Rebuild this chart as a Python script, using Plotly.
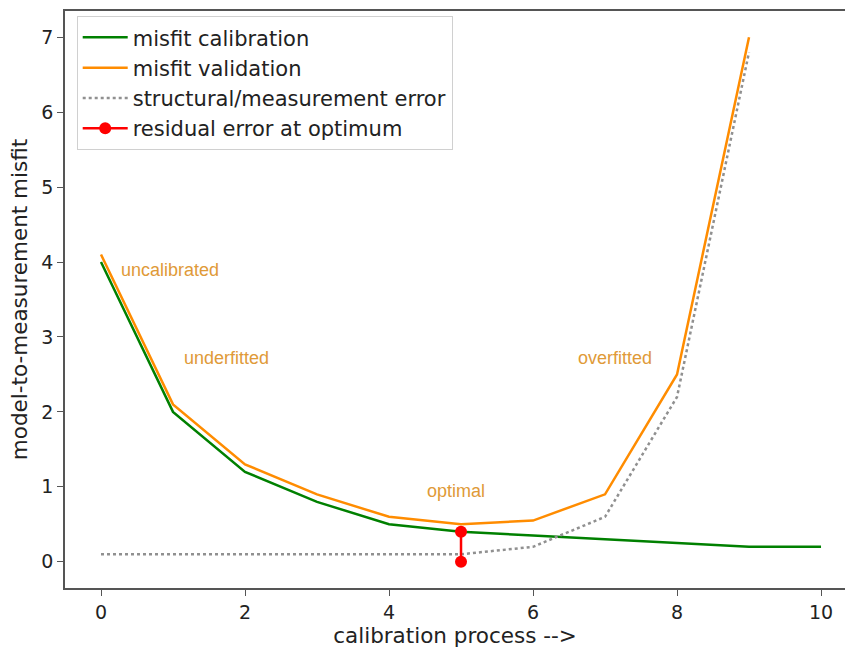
import plotly.graph_objects as go

calib_x = [0, 1, 2, 3, 4, 5, 6, 7, 8, 9, 10]
calib_y = [4.0, 2.0, 1.2, 0.8, 0.5, 0.4, 0.35, 0.3, 0.25, 0.2, 0.2]
valid_x = [0, 1, 2, 3, 4, 5, 6, 7, 8, 9]
valid_y = [4.1, 2.1, 1.3, 0.9, 0.6, 0.5, 0.55, 0.9, 2.5, 7.0]
struct_x = [0, 1, 2, 3, 4, 5, 6, 7, 8, 9]
struct_y = [0.1, 0.1, 0.1, 0.1, 0.1, 0.1, 0.2, 0.6, 2.2, 6.8]
resid_x = [5, 5]
resid_y = [0.0, 0.4]
labels = ["uncalibrated", "underfitted", "optimal", "overfitted"]
label_x = [0.25, 1.12, 4.5, 6.6]
label_y = [3.9, 2.72, 0.95, 2.72]

FONT = "DejaVu Sans"
fig = go.Figure()
fig.add_trace(go.Scatter(x=calib_x, y=calib_y, mode="lines", name="misfit calibration",
                         line=dict(color="#008000", width=2.5)))
fig.add_trace(go.Scatter(x=valid_x, y=valid_y, mode="lines", name="misfit validation",
                         line=dict(color="#FF8C00", width=2.5)))
fig.add_trace(go.Scatter(x=struct_x, y=struct_y, mode="lines", name="structural/measurement error",
                         line=dict(color="#909090", width=2.5, dash="dot")))
fig.add_trace(go.Scatter(x=resid_x, y=resid_y, mode="lines+markers", name="residual error at optimum",
                         line=dict(color="#FF0000", width=2.5),
                         marker=dict(color="#FF0000", size=12)))

for t, x, y in zip(labels, label_x, label_y):
    fig.add_annotation(x=x, y=y, text=t, showarrow=False, xanchor="left", yanchor="middle",
                       font=dict(family="Liberation Sans", size=18, color="#E09A38"))

fig.update_layout(
    width=845, height=651,
    margin=dict(l=65, r=0, t=11, b=63, autoexpand=False),
    paper_bgcolor="white", plot_bgcolor="white",
    font=dict(family=FONT, size=19, color="#222222"),
    showlegend=True,
    legend=dict(x=0.015, y=0.991, xanchor="left", yanchor="top",
                bgcolor="rgba(255,255,255,0.9)", bordercolor="#d0d0d0", borderwidth=1,
                font=dict(family=FONT, size=21, color="#222222"),
                itemwidth=45, tracegroupgap=0),
    xaxis=dict(range=[-0.5, 10.333], tickvals=[0, 2, 4, 6, 8, 10],
               showgrid=False, zeroline=False, showline=True, linecolor="#555555", linewidth=1.5,
               mirror=True, ticks="outside", ticklen=6, tickcolor="#555555",
               title=dict(text="calibration process -->", font=dict(size=21.5), standoff=6),
               tickfont=dict(size=19)),
    yaxis=dict(range=[-0.35, 7.35], tickvals=[0, 1, 2, 3, 4, 5, 6, 7],
               showgrid=False, zeroline=False, showline=True, linecolor="#555555", linewidth=1.5,
               ticks="outside", ticklen=6, tickcolor="#555555",
               title=dict(text="model-to-measurement misfit", font=dict(size=21.5), standoff=8),
               tickfont=dict(size=19)),
)

fig.write_html("out.html", config={"displayModeBar": False},
               post_script="document.body.style.margin='0';document.body.style.overflow='hidden';")
